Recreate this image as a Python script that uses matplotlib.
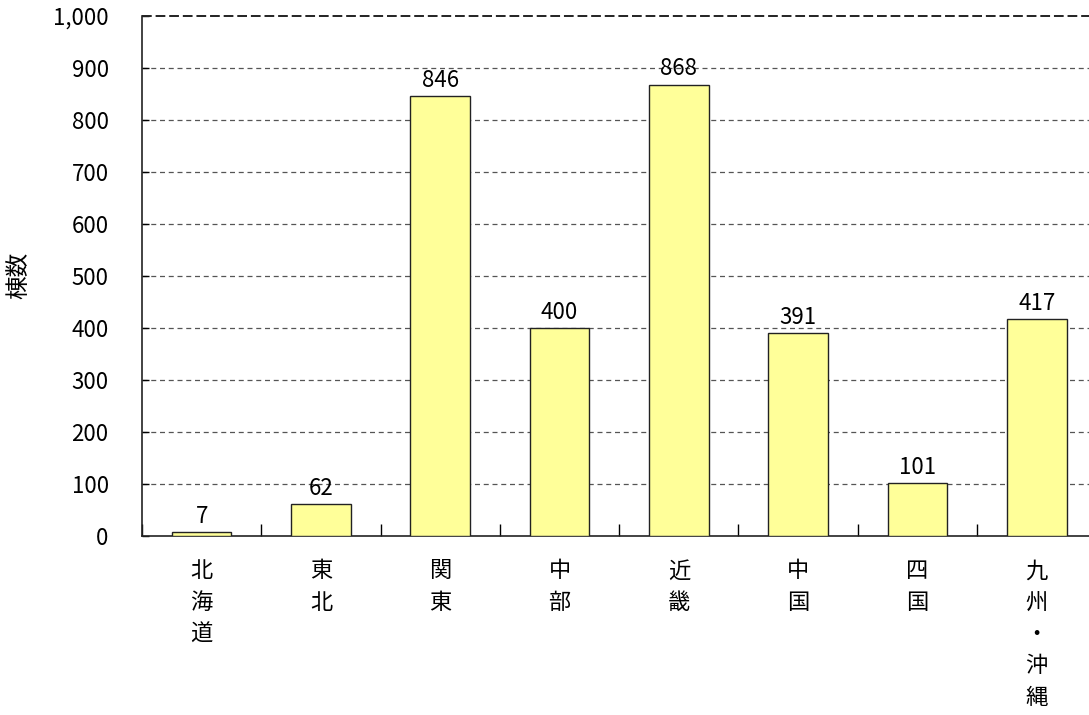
import matplotlib.pyplot as plt
import numpy as np

plt.rcParams['font.family'] = ['Noto Sans CJK JP', 'DejaVu Sans']

# 地域別の棟数
regions = ['北海道', '東北', '関東', '中部', '近畿', '中国', '四国', '九州・沖縄']
counts = [7, 62, 846, 400, 868, 391, 101, 417]
yticks = [0, 100, 200, 300, 400, 500, 600, 700, 800, 900, 1000]

fig = plt.figure(figsize=(10.89, 7.15), dpi=100)
ax = fig.add_axes([142 / 1089, 179 / 715, 8 * 119.3 / 1089, 520 / 715])

x = np.arange(len(regions))
ax.bar(x, counts, width=0.5, color='#FFFF99', edgecolor='#222222', linewidth=1.0, zorder=3)

for xi, v in zip(x, counts):
    ax.text(xi, v + 8, str(v), ha='center', va='bottom', fontsize=16, zorder=4)

ax.set_xlim(-0.5, len(regions) - 0.5)
ax.set_ylim(0, 1000)
ax.set_yticks(yticks)
ax.set_yticklabels([f'{t:,}' for t in yticks], fontsize=16)
ax.tick_params(axis='y', direction='in', length=5, pad=24, width=1)

# 区切りの目盛り（カテゴリの境界）
ax.set_xticks(np.arange(len(regions) + 1) - 0.5)
ax.set_xticklabels([])
ax.tick_params(axis='x', direction='in', length=9, width=1)

# 縦書きのカテゴリ名
for xi, name in zip(x, regions):
    ax.text(xi, -0.045, '\n'.join(name), transform=ax.get_xaxis_transform(),
            ha='center', va='top', fontsize=16, linespacing=1.48)

for t in yticks[1:-1]:
    ax.axhline(t, color='#555555', lw=0.9, ls=(0, (4, 3)), zorder=1)
ax.axhline(1000, color='#222222', lw=1.4, ls=(0, (5, 2)), zorder=2, clip_on=False)

for s in ['top', 'right']:
    ax.spines[s].set_visible(False)
for s in ['left', 'bottom']:
    ax.spines[s].set_color('#222222')
    ax.spines[s].set_linewidth(1.2)

fig.text(19 / 1089, 1 - 275 / 715, '棟数', rotation=90, ha='center', va='center', fontsize=17)

fig.savefig('out.png', dpi=100)
